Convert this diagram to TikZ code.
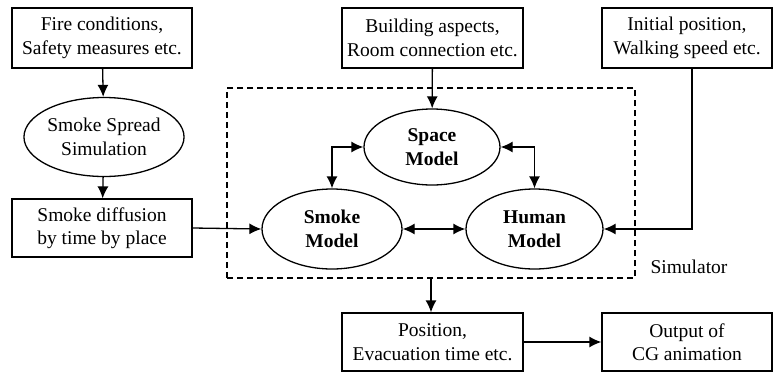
\documentclass[tikz,border=0pt]{standalone}
\usepackage{fontspec}
\setmainfont{Liberation Serif}
\usetikzlibrary{shapes.geometric,arrows.meta}
\begin{document}
\begin{tikzpicture}[x=1pt,y=-1pt,
  txt/.style={font=\fontsize{19.5}{23.5}\selectfont},
  btxt/.style={font=\fontsize{19.5}{23.5}\selectfont\bfseries},
  box/.style={draw, line width=1.3pt, minimum width=180pt, minimum height=60pt, align=center, inner sep=0pt, txt},
  ell/.style={draw, ellipse, line width=1.3pt, inner sep=0pt, align=center, txt},
  arr/.style={line width=1.3pt, -{Latex[length=12pt,width=11pt]}},
  darr/.style={line width=1.3pt, {Latex[length=12pt,width=11pt]}-{Latex[length=12pt,width=11pt]}}]
\useasboundingbox (0,0) rectangle (774,373);

\node[box] (fire) at (102,38) {Fire conditions,\\Safety measures etc.};
\node[ell, minimum width=136pt, minimum height=79pt] (smokesim) at (104,137) {Smoke Spread\\Simulation};
\node[box, minimum height=58pt] (diff) at (102,228) {Smoke diffusion\\by time by place};

\node[box, minimum width=181pt] (building) at (432.5,38) {Building aspects,\\Room connection etc.};
\node[box, minimum width=170pt] (initial) at (687,38) {Initial position,\\Walking speed etc.};

\node[draw, dash pattern=on 6pt off 4pt, line width=1.3pt, minimum width=408pt, minimum height=190pt, inner sep=0pt] (sim) at (431,183) {};

\node[ell, btxt, minimum width=136pt, minimum height=76pt] (space) at (432,147) {Space\\Model};
\node[ell, btxt, minimum width=140pt, minimum height=80pt] (smoke) at (332,229) {Smoke\\Model};
\node[ell, btxt, minimum width=137pt, minimum height=80pt] (human) at (534.5,229) {Human\\Model};

\node[txt] (simlabel) at (689,267) {Simulator};

\node[box, minimum width=181pt, minimum height=58pt] (position) at (432.5,342) {Position,\\Evacuation time etc.};
\node[box, minimum width=170pt, minimum height=58pt] (output) at (687,342) {Output of\\CG animation};

\draw[arr] (fire) -- (smokesim);
\draw[arr] (smokesim) -- (diff);
\draw[arr] (diff.east) -- (smoke.west);
\draw[arr] (building) -- (space);
\draw[darr] (space.west) -| (smoke.north);
\draw[darr] (space.east) -| (human.north);
\draw[darr] (smoke) -- (human);
\draw[arr] ([xshift=5pt]initial.south) |- (human.east);
\draw[arr] (sim.south) -- (sim.south |- position.north);
\draw[arr] (position.east) -- (output.west);
\end{tikzpicture}
\end{document}
